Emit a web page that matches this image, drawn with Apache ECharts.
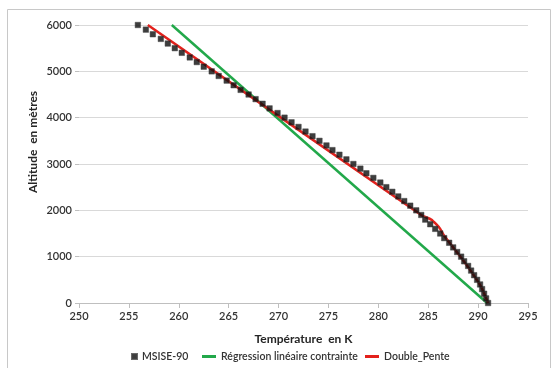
<!DOCTYPE html>
<html>
<head>
<meta charset="utf-8">
<script src="https://cdn.jsdelivr.net/npm/echarts@6/dist/echarts.min.js"></script>
<style>
html,body{margin:0;padding:0;background:#fff;}
#chart{width:557px;height:368px;}
</style>
</head>
<body>
<div id="chart"></div>
<script>
// Altitudes (m) of the MSISE-90 profile, every 100 m
const altitudes = [0,100,200,300,400,500,600,700,800,900,1000,1100,1200,1300,1400,1500,1600,1700,1800,1900,
  2000,2100,2200,2300,2400,2500,2600,2700,2800,2900,3000,3100,3200,3300,3400,3500,3600,3700,3800,3900,
  4000,4100,4200,4300,4400,4500,4600,4700,4800,4900,5000,5100,5200,5300,5400,5500,5600,5700,5800,5900,6000];
// MSISE-90 temperatures (K)
const msiseTemp = [291.0,290.8,290.6,290.4,290.2,289.9,289.6,289.3,289.0,288.6,
  288.3,287.9,287.5,287.1,286.6,286.2,285.7,285.2,284.7,284.3,
  283.8,283.2,282.6,282.0,281.4,280.8,280.2,279.5,278.8,278.2,
  277.5,276.8,276.1,275.4,274.8,274.1,273.4,272.7,272.0,271.3,
  270.6,269.9,269.1,268.4,267.7,267.0,266.2,265.5,264.8,264.0,
  263.3,262.5,261.8,261.1,260.3,259.6,258.9,258.2,257.4,256.7,255.9];
// Régression linéaire contrainte
const regTemp = [290.9, 259.3];
const regAlt = [0, 6000];
// Double_Pente
const dpTemp = [291.0, 290.3, 289.4, 288.4, 287.5, 286.6, 286.2, 285.8, 285.3, 284.3, 256.9];
const dpAlt  = [0,     350,   650,   950,   1200,  1450,  1600,  1700,  1800,  1900,  6000];
// Axis ticks
const xMin = 250, xMax = 295, xStep = 5;
const yMin = 0, yMax = 6000, yStep = 1000;
const seriesNames = ['MSISE-90', 'Régression linéaire contrainte', 'Double_Pente'];

const zip = (xs, ys) => xs.map((x, i) => [x, ys[i]]);
const font = 'Lato, "Open Sans", sans-serif';
const legendText = {fontFamily: font, fontSize: 10.5, color: '#333', fontWeight: 600};
const chart = echarts.init(document.getElementById('chart'), null, {renderer: 'canvas'});
chart.setOption({
  animation: false,
  backgroundColor: '#ffffff',
  grid: {left: 79, right: 29, top: 25, bottom: 65, containLabel: false},
  xAxis: {
    type: 'value', min: xMin, max: xMax, interval: xStep,
    name: 'Température  en K', nameLocation: 'middle', nameGap: 30,
    nameTextStyle: {fontFamily: font, fontWeight: 'bold', fontSize: 12, color: '#262626'},
    axisLine: {show: true, lineStyle: {color: '#bfbfbf', width: 1}},
    axisTick: {show: true, length: 5, lineStyle: {color: '#bfbfbf'}},
    axisLabel: {fontFamily: font, fontSize: 11, color: '#333', margin: 8, fontWeight: 600,
      formatter: v => String(v)},
    splitLine: {show: false}
  },
  yAxis: {
    type: 'value', min: yMin, max: yMax, interval: yStep,
    axisLine: {show: false},
    axisTick: {show: true, length: 4, lineStyle: {color: '#bfbfbf'}},
    axisLabel: {fontFamily: font, fontSize: 11, color: '#333', margin: 7, fontWeight: 600,
      formatter: v => String(v)},
    splitLine: {show: true, lineStyle: {color: '#d9d9d9', width: 1}}
  },
  legend: [
    {data: [seriesNames[0]], left: 131, top: 351, padding: 0, icon: 'rect', itemWidth: 5, itemHeight: 5, textStyle: legendText},
    {data: [seriesNames[1]], left: 202, top: 351, padding: 0, icon: 'rect', itemWidth: 14, itemHeight: 3, textStyle: legendText},
    {data: [seriesNames[2]], left: 365, top: 351, padding: 0, icon: 'rect', itemWidth: 14, itemHeight: 3, textStyle: legendText}
  ],
  graphic: [
    {type: 'rect', shape: {x: 7.5, y: 9.5, width: 543, height: 400}, style: {fill: 'none', stroke: '#c8c8c8', lineWidth: 1}, silent: true},
    {type: 'text', x: 33, y: 142, rotation: Math.PI / 2,
     style: {text: 'Altitude  en mètres', font: 'bold 12px ' + font, fill: '#262626', textAlign: 'center', textVerticalAlign: 'middle'}}
  ],
  series: [
    {name: seriesNames[1], type: 'line', data: zip(regTemp, regAlt), showSymbol: false, symbol: 'none',
     lineStyle: {color: '#22a84a', width: 2.5}, itemStyle: {color: '#22a84a'}, z: 2},
    {name: seriesNames[2], type: 'line', data: zip(dpTemp, dpAlt), showSymbol: false, symbol: 'none', smooth: 0.2,
     lineStyle: {color: '#e3211c', width: 2.5}, itemStyle: {color: '#e3211c'}, z: 3},
    {name: seriesNames[0], type: 'scatter', data: zip(msiseTemp, altitudes), symbol: 'rect', symbolSize: 5.5,
     itemStyle: {color: '#0d0d0d', borderColor: '#444', borderWidth: 0.6}, z: 4}
  ]
});
</script>
</body>
</html>
